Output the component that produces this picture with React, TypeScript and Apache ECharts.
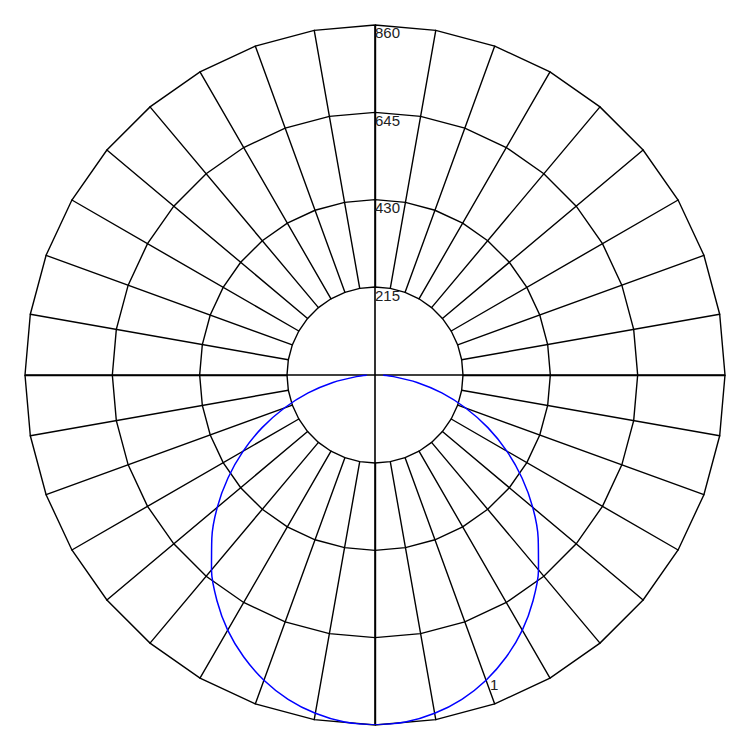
import React, { useEffect, useRef } from 'react';
import * as echarts from 'echarts';

// polar grid: 36 spokes, rings every 215 up to 860
const spokeCount = 36;
const radiusMax = 860;
const radiusStep = 215;

// blue curve, angle in degrees clockwise from top, radius in axis units
const curveAngles = [
  92.5, 95, 100, 105, 110, 115, 120, 125, 130, 135, 140, 145, 150, 155, 160, 165, 170, 175, 180,
  185, 190, 195, 200, 205, 210, 215, 220, 225, 230, 235, 240, 245, 250, 255, 260, 265, 267.5,
];
const curveRadii = [
  20, 46, 105, 170, 237, 306, 374, 441, 506, 567, 625, 677, 724, 764, 798, 825, 844, 856, 860,
  856, 844, 825, 798, 764, 724, 677, 625, 567, 506, 441, 374, 306, 237, 170, 105, 46, 20,
];

// single labelled point on the curve
const labelAngle = 160;
const labelText = '1';

const App = () => {
  const chartRef = useRef<HTMLDivElement>(null);

  useEffect(() => {
    const chart = echarts.init(chartRef.current, null, { renderer: 'svg' });

    const data = curveAngles.map((a, i) => {
      if (a === labelAngle) {
        return {
          value: [curveRadii[i], a],
          label: {
            show: true,
            position: 'right',
            distance: 4,
            offset: [0, 4],
            formatter: labelText,
            fontSize: 15,
            color: '#222',
            fontFamily: 'Liberation Sans, Arial, sans-serif',
          },
        };
      }
      return [curveRadii[i], a];
    });

    const option: any = {
      animation: false,
      backgroundColor: '#fff',
      radar: {
        center: ['50%', '50%'],
        radius: [88, 350],
        startAngle: 90,
        splitNumber: 3,
        shape: 'polygon',
        indicator: Array.from({ length: spokeCount }, () => ({ name: '', min: 0, max: radiusMax })),
        axisName: { show: false },
        axisLine: { lineStyle: { color: '#000', width: 1.4 } },
        splitLine: { lineStyle: { color: '#000', width: 1.4 } },
        splitArea: { show: false },
      },
      polar: {
        center: ['50%', '50%'],
        radius: 350,
      },
      angleAxis: {
        type: 'value',
        min: 0,
        max: 360,
        interval: 90,
        startAngle: 90,
        clockwise: true,
        axisLine: { show: false },
        axisTick: { show: false },
        axisLabel: { show: false },
        splitLine: { show: true, lineStyle: { color: '#000', width: 1.6 } },
      },
      radiusAxis: {
        type: 'value',
        min: 0,
        max: radiusMax,
        interval: radiusStep,
        axisLine: { show: false },
        axisTick: { show: false },
        splitLine: { show: false },
        axisLabel: {
          showMinLabel: false,
          margin: 0,
          align: 'left',
          verticalAlign: 'top',
          fontSize: 15,
          color: '#222',
          fontFamily: 'Liberation Sans, Arial, sans-serif',
        },
        z: 10,
      },
      series: [
        {
          type: 'line',
          coordinateSystem: 'polar',
          data,
          smooth: 0.3,
          showSymbol: true,
          symbol: 'circle',
          symbolSize: 0,
          lineStyle: { color: '#0000ff', width: 1.5 },
          itemStyle: { color: '#0000ff' },
          z: 5,
        },
      ],
    };

    chart.setOption(option);

    return () => {
      chart.dispose();
    };
  }, []);

  return (
    <div
      ref={chartRef}
      style={{ position: 'absolute', left: 0, top: 0, width: '750px', height: '750px' }}
    />
  );
};

export default App;
